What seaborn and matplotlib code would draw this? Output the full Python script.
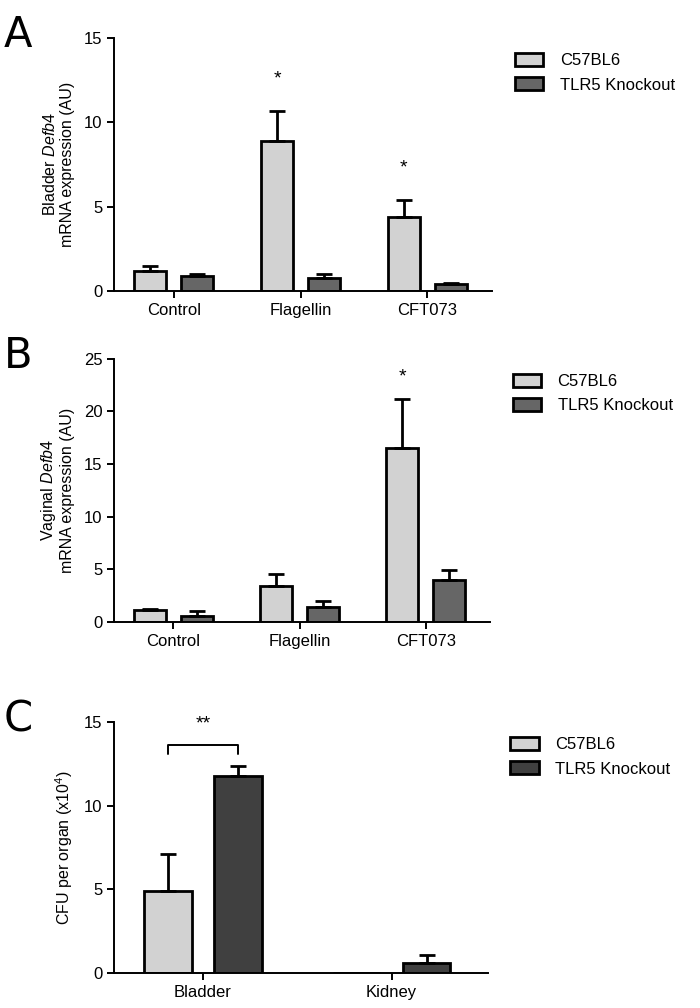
import pandas as pd
import matplotlib
matplotlib.use("Agg")
import matplotlib.pyplot as plt
import seaborn as sns
from matplotlib.patches import Patch

# data
strains = ["C57BL6", "TLR5 Knockout"]
treatments = ["Control", "Flagellin", "CFT073"]

bladder_wt = [1.2, 8.9, 4.4]
bladder_wt_err = [0.3, 1.8, 1.0]
bladder_ko = [0.9, 0.8, 0.4]
bladder_ko_err = [0.1, 0.2, 0.1]

vaginal_wt = [1.1, 3.4, 16.5]
vaginal_wt_err = [0.1, 1.2, 4.7]
vaginal_ko = [0.6, 1.4, 4.0]
vaginal_ko_err = [0.4, 0.6, 0.9]

organs = ["Bladder", "Kidney"]
cfu_wt = [4.9, 0.0]
cfu_wt_err = [2.2, 0.0]
cfu_ko = [11.8, 0.6]
cfu_ko_err = [0.6, 0.5]

LIGHT = "#d2d2d2"
MID = "#666666"
DARK = "#404040"

sns.set_style("ticks")
plt.rcParams["font.family"] = ["Liberation Sans", "DejaVu Sans"]
plt.rcParams["mathtext.fontset"] = "custom"
plt.rcParams["mathtext.rm"] = "Liberation Sans"
plt.rcParams["mathtext.it"] = "Liberation Sans:italic"
plt.rcParams["text.color"] = "black"
plt.rcParams["axes.labelcolor"] = "black"
plt.rcParams["xtick.color"] = "black"
plt.rcParams["ytick.color"] = "black"
plt.rcParams["axes.edgecolor"] = "black"


def make_df(cats, wt, ko):
    rows = []
    for c, v in zip(cats, wt):
        rows.append({"cat": c, "strain": strains[0], "value": v})
    for c, v in zip(cats, ko):
        rows.append({"cat": c, "strain": strains[1], "value": v})
    return pd.DataFrame(rows)


def panel(ax, cats, wt, wt_err, ko, ko_err, ymax, step, ko_color, ylabel, letter):
    df = make_df(cats, wt, ko)
    sns.barplot(data=df, x="cat", y="value", hue="strain", order=cats,
                hue_order=strains, palette=[LIGHT, ko_color], width=0.74,
                gap=0.32, edgecolor="black", linewidth=2.0, errorbar=None,
                legend=False, ax=ax)
    # upper-only error bars at each bar centre
    bars = [p for p in ax.patches]
    n = len(cats)
    vals = list(wt) + list(ko)
    errs = list(wt_err) + list(ko_err)
    for p, v, e in zip(bars[:2 * n], vals, errs):
        if e <= 0:
            continue
        xc = p.get_x() + p.get_width() / 2
        ax.errorbar([xc], [v], yerr=[[0], [e]], fmt="none", ecolor="black",
                    elinewidth=2.0, capsize=6, capthick=2.0)
    ax.set_xlim(-0.47, n - 1 + 0.51)
    ax.set_ylim(0, ymax)
    ax.set_yticks(range(0, ymax + 1, step))
    ax.set_xlabel("")
    ax.set_ylabel(ylabel, fontsize=11.5, labelpad=6)
    sns.despine(ax=ax)
    for s in ["left", "bottom"]:
        ax.spines[s].set_linewidth(1.4)
    ax.tick_params(axis="both", width=1.4, length=5, labelsize=12)
    ax.legend(handles=[Patch(facecolor=LIGHT, edgecolor="black", linewidth=2.0, label=strains[0]),
                       Patch(facecolor=ko_color, edgecolor="black", linewidth=2.0, label=strains[1])],
              loc="upper left", bbox_to_anchor=(1.02, 1.0), frameon=False,
              fontsize=12, handlelength=1.7, handleheight=0.8,
              handletextpad=1.0, labelspacing=0.55)
    ax.figure.text(0.005, ax.get_position().y1 + 0.003, letter, fontsize=30,
                   family="DejaVu Sans", va="center", ha="left")
    return bars


fig = plt.figure(figsize=(7, 10.08), dpi=100)
axA = fig.add_axes([0.163, 0.7113, 0.54, 0.251])
axB = fig.add_axes([0.163, 0.383, 0.537, 0.261])
axC = fig.add_axes([0.163, 0.0347, 0.534, 0.249])

bA = panel(axA, treatments, bladder_wt, bladder_wt_err, bladder_ko, bladder_ko_err,
           15, 5, MID, "Bladder $\\mathit{Defb4}$\nmRNA expression (AU)", "A")
for i, y in [(1, 12.6), (2, 7.3)]:
    p = bA[i]
    axA.text(p.get_x() + p.get_width() / 2, y, "*", ha="center", va="center", fontsize=14)

bB = panel(axB, treatments, vaginal_wt, vaginal_wt_err, vaginal_ko, vaginal_ko_err,
           25, 5, MID, "Vaginal $\\mathit{Defb4}$\nmRNA expression (AU)", "B")
p = bB[2]
axB.text(p.get_x() + p.get_width() / 2, 23.3, "*", ha="center", va="center", fontsize=14)

bC = panel(axC, organs, cfu_wt, cfu_wt_err, cfu_ko, cfu_ko_err,
           15, 5, DARK, "CFU per organ (x10$^4$)", "C")
x1 = bC[0].get_x() + bC[0].get_width() / 2
x2 = bC[2].get_x() + bC[2].get_width() / 2
axC.plot([x1, x1, x2, x2], [13.1, 13.6, 13.6, 13.1], color="black", lw=1.4)
axC.text((x1 + x2) / 2, 14.9, "**", ha="center", va="center", fontsize=14)

fig.savefig("out.png", dpi=100)
